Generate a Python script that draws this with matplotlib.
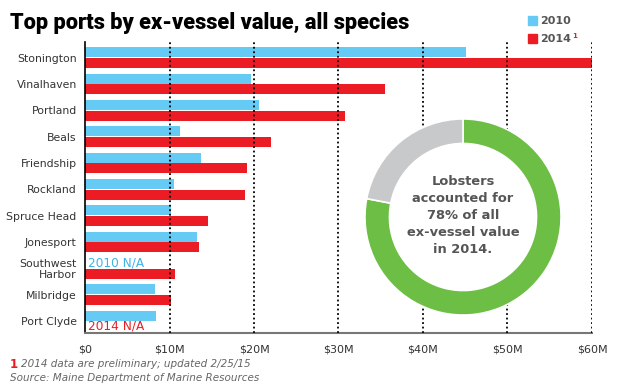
import matplotlib.pyplot as plt
import numpy as np

# data, $ millions
ports = ['Stonington', 'Vinalhaven', 'Portland', 'Beals', 'Friendship', 'Rockland',
         'Spruce Head', 'Jonesport', 'Southwest\nHarbor', 'Milbridge', 'Port Clyde']
val_2010 = [45.1, 19.6, 20.6, 11.2, 13.7, 10.5, 10.2, 13.2, np.nan, 8.3, 8.4]
val_2014 = [60.0, 35.5, 30.8, 22.0, 19.2, 18.9, 14.6, 13.5, 10.7, 10.2, np.nan]
xticks = [0, 10, 20, 30, 40, 50, 60]
xticklabels = ['$0', '$10M', '$20M', '$30M', '$40M', '$50M', '$60M']
lobster_share = [78, 22]

blue = '#66cbf4'
red = '#ec1c24'
green = '#6dbe45'
grey_ring = '#c8c9cb'
text_grey = '#555555'

fig = plt.figure(figsize=(6.24, 3.9), dpi=100)
ax = fig.add_axes([85 / 624, 1 - 333 / 390, 507 / 624, 291 / 390])

y = np.arange(len(ports))
h = 0.38
ax.barh(y - 0.2, val_2010, height=h, color=blue, zorder=2)
ax.barh(y + 0.2, val_2014, height=h, color=red, zorder=2)

ax.set_ylim(len(ports) - 1 + 0.455, -0.59)
ax.set_xlim(0, 60)
ax.set_yticks(y)
ax.set_yticklabels(ports, fontsize=7.8, color='#333333', linespacing=1.05)
ax.set_xticks(xticks)
ax.set_xticklabels(xticklabels, fontsize=8, color='#333333')
ax.tick_params(axis='y', length=0, pad=6)
ax.tick_params(axis='x', length=0, pad=8)

for x in xticks[1:]:
    ax.axvline(x, color='black', linestyle=(0, (1, 1.5)), linewidth=1.3, zorder=3)

for s in ['top', 'right']:
    ax.spines[s].set_visible(False)
ax.spines['left'].set_color('black')
ax.spines['left'].set_linewidth(1.2)
ax.spines['bottom'].set_color('#777777')
ax.spines['bottom'].set_linewidth(1.5)

# N/A notes
ax.text(0.4, 8 - 0.2, '2010 N/A', color='#3fb3e6', fontsize=8.7, va='center', ha='left')
ax.text(0.4, 10 + 0.2, '2014 N/A', color=red, fontsize=8.7, va='center', ha='left')

# donut
dax = fig.add_axes([363 / 624, 1 - 317 / 390, 200 / 624, 200 / 390])
dax.add_patch(plt.Circle((0, 0), 1.0, color='white', zorder=0))
dax.pie(lobster_share, colors=[green, grey_ring], startangle=90, counterclock=False,
        radius=1.0, wedgeprops=dict(width=0.25, edgecolor='white', linewidth=1.2))
dax.set_xlim(-1.02, 1.02)
dax.set_ylim(-1.02, 1.02)
dax.set_aspect('equal')
dax.axis('off')
dax.text(0, 0.02, 'Lobsters\naccounted for\n78% of all\nex-vessel value\nin 2014.',
         ha='center', va='center', fontsize=9.4, fontweight='bold', color=text_grey,
         linespacing=1.4)

# title and legend
fig.text(10 / 624, 1 - 29 / 390, 'Top ports by ex-vessel value, all species',
         fontsize=15.7, fontweight='heavy', color='black', ha='left', va='baseline',
         family='Roboto')
fig.patches.append(plt.Rectangle((528 / 624, 1 - 25 / 390), 9 / 624, 9 / 390,
                                 color=blue, transform=fig.transFigure, figure=fig))
fig.patches.append(plt.Rectangle((528 / 624, 1 - 43 / 390), 9 / 624, 9 / 390,
                                 color=red, transform=fig.transFigure, figure=fig))
fig.text(540 / 624, 1 - 21 / 390, '2010', fontsize=8, fontweight='bold', color=text_grey,
         va='center', ha='left')
fig.text(540 / 624, 1 - 39 / 390, '2014', fontsize=8, fontweight='bold', color=text_grey,
         va='center', ha='left')
fig.text(572 / 624, 1 - 36 / 390, '1', fontsize=5, fontweight='bold', color=red,
         va='center', ha='left')

# footnotes
fig.text(10 / 624, 1 - 364 / 390, '1', fontsize=8.5, fontweight='bold', color=red,
         va='center', ha='left')
fig.text(21 / 624, 1 - 364 / 390, '2014 data are preliminary; updated 2/25/15',
         fontsize=7.5, style='italic', color='#666666', va='center', ha='left')
fig.text(10 / 624, 1 - 378 / 390, 'Source: Maine Department of Marine Resources',
         fontsize=7.5, style='italic', color='#666666', va='center', ha='left')

fig.savefig('out.png', dpi=100)
